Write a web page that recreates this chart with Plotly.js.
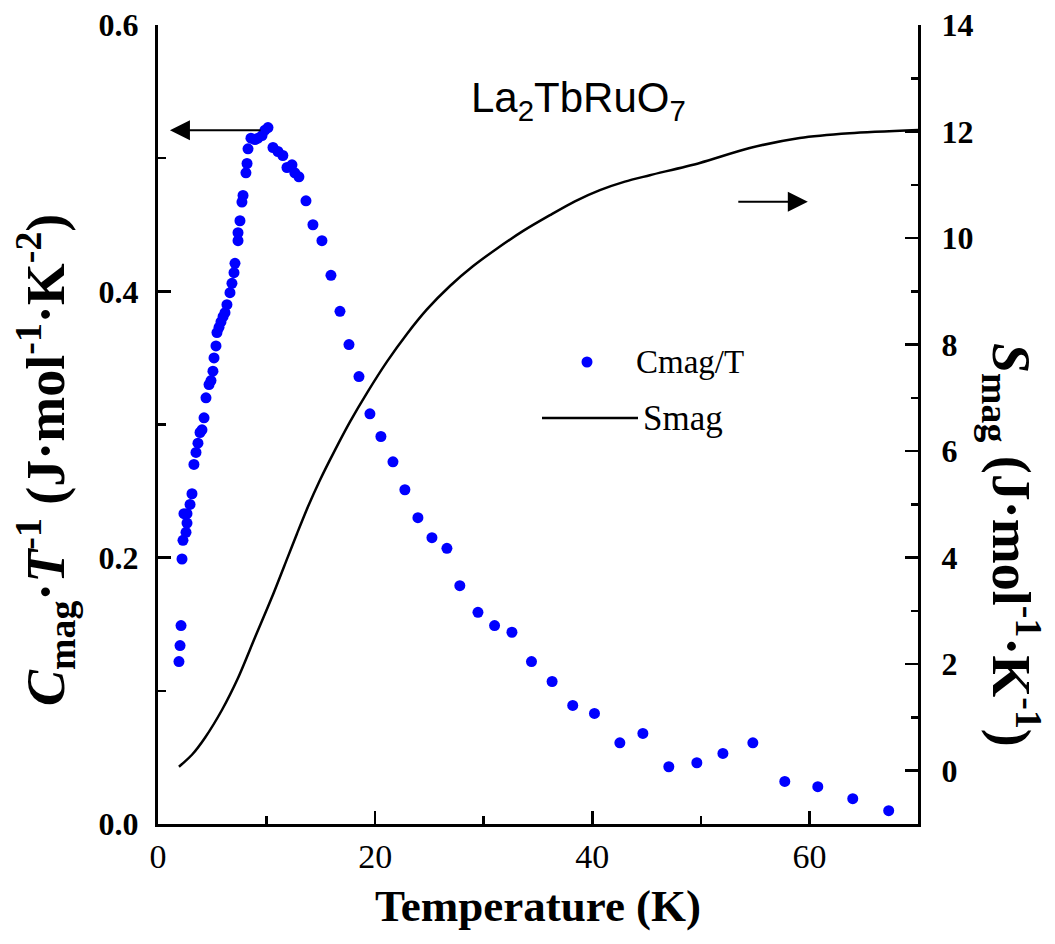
<!DOCTYPE html>
<html>
<head>
<meta charset="utf-8">
<script src="https://cdn.plot.ly/plotly-3.0.1.min.js"></script>
<style>html,body{margin:0;padding:0;background:#fff;}#chart{width:1055px;height:944px;}</style>
</head>
<body>
<div id="chart"></div>
<script>
// Cmag/T data (J mol^-1 K^-2) vs temperature (K)
const cT = [1.93,2.03,2.12,2.21,2.30,2.39,2.58,2.67,2.67,2.95,3.13,3.31,3.50,3.68,3.87,4.05,4.24,4.42,4.70,4.88,5.06,5.16,5.34,5.43,5.62,5.80,5.99,6.17,6.35,6.63,6.81,7.00,7.09,7.37,7.37,7.55,7.73,7.83,8.10,8.20,8.29,8.56,8.93,9.21,9.58,9.85,10.13,10.59,11.05,11.50,11.88,12.34,12.60,12.98,13.63,14.27,15.10,15.93,16.76,17.59,18.51,19.52,20.53,21.64,22.74,23.94,25.23,26.61,27.80,29.47,31.00,32.60,34.40,36.30,38.20,40.20,42.54,44.66,47.05,49.63,52.03,54.79,57.73,60.77,63.99,67.30];
const cmag = [0.122,0.134,0.149,0.199,0.213,0.233,0.219,0.226,0.233,0.240,0.248,0.270,0.279,0.286,0.294,0.296,0.305,0.320,0.330,0.333,0.340,0.350,0.359,0.369,0.373,0.377,0.381,0.384,0.390,0.399,0.406,0.414,0.421,0.438,0.444,0.453,0.467,0.472,0.489,0.496,0.507,0.515,0.514,0.515,0.517,0.521,0.523,0.508,0.505,0.502,0.493,0.495,0.489,0.486,0.468,0.450,0.438,0.412,0.385,0.360,0.336,0.308,0.291,0.272,0.251,0.230,0.215,0.207,0.179,0.159,0.149,0.144,0.122,0.107,0.089,0.083,0.061,0.068,0.043,0.046,0.053,0.061,0.032,0.028,0.019,0.010];
// Smag (J mol^-1 K^-1) vs temperature (K)
const sT = [1.93,3.13,4.33,5.89,7.37,8.93,10.5,11.97,12.8,13.8,14.9,16.3,17.68,19.24,21.09,22.93,24.77,26.89,29.0,31.2,33.6,36.1,38.4,40.7,43.0,45.3,49.9,54.5,59.1,63.7,70];
const smag = [0.075,0.30,0.62,1.14,1.74,2.50,3.26,4.02,4.45,4.95,5.45,6.02,6.55,7.09,7.68,8.20,8.66,9.10,9.47,9.80,10.13,10.43,10.69,10.90,11.06,11.18,11.41,11.69,11.88,11.97,12.03];
const xTicks = [0,20,40,60];
const yTicks = [0.0,0.2,0.4,0.6];
const y2Ticks = [0,2,4,6,8,10,12,14];

const serif = 'Liberation Serif, Times New Roman, serif';
const traces = [
  {x: cT, y: cmag, type: 'scatter', mode: 'markers', name: 'Cmag/T',
   marker: {color: '#0000FF', size: 11}, yaxis: 'y', showlegend: false},
  {x: sT, y: smag, type: 'scatter', mode: 'lines', name: 'Smag',
   line: {color: '#000000', width: 2.5, shape: 'spline', smoothing: 0.8}, yaxis: 'y2', showlegend: false}
];

const px = (p) => (p - 158) / 760;   // pixel -> paper x
const py = (p) => (824 - p) / 799;   // pixel -> paper y

const layout = {
  width: 1055, height: 944,
  margin: {l: 158, r: 137, t: 25, b: 120},
  paper_bgcolor: '#fff', plot_bgcolor: '#fff',
  showlegend: false,
  xaxis: {
    range: [0, 70], tickvals: xTicks, ticktext: xTicks.map(String),
    ticks: 'inside', ticklen: 13, tickwidth: 2.5, tickcolor: '#000',
    minor: {dtick: 10, ticks: 'inside', ticklen: 8, tickwidth: 2.5, tickcolor: '#000'},
    showline: true, linewidth: 3, linecolor: '#000', mirror: false,
    showgrid: false, zeroline: false,
    tickfont: {family: serif, size: 34, color: '#000'},
    title: {text: '<b>Temperature (K)</b>', font: {family: serif, size: 45, color: '#000'}, standoff: 16}
  },
  yaxis: {
    range: [0, 0.6], tickvals: yTicks, ticktext: ['0.0','0.2','0.4','0.6'],
    ticks: 'inside', ticklen: 13, tickwidth: 2.5, tickcolor: '#000',
    minor: {dtick: 0.1, ticks: 'inside', ticklen: 8, tickwidth: 2.5, tickcolor: '#000'},
    showline: true, linewidth: 3, linecolor: '#000',
    showgrid: false, zeroline: false, ticklabelstandoff: 10,
    tickfont: {family: serif, size: 32, color: '#000', weight: 'bold'}
  },
  yaxis2: {
    overlaying: 'y', side: 'right', anchor: 'x',
    range: [-1, 14], tickvals: y2Ticks, ticktext: y2Ticks.map(String),
    ticks: 'inside', ticklen: 13, tickwidth: 2.5, tickcolor: '#000',
    minor: {dtick: 1, ticks: 'inside', ticklen: 7, tickwidth: 2.5, tickcolor: '#000'},
    showline: true, linewidth: 3, linecolor: '#000',
    showgrid: false, zeroline: false, ticklabelstandoff: 14,
    tickfont: {family: serif, size: 32, color: '#000', weight: 'bold'}
  },
  shapes: [
    {type: 'circle', xref: 'paper', yref: 'paper',
     x0: px(587-5.5), x1: px(587+5.5), y0: py(362+5.5), y1: py(362-5.5),
     fillcolor: '#0000FF', line: {width: 0}},
    {type: 'line', xref: 'paper', yref: 'paper',
     x0: px(542), x1: px(638), y0: py(418), y1: py(418),
     line: {color: '#000', width: 2.5}}
  ],
  annotations: [
    {text: 'La<sub>2</sub>TbRuO<sub>7</sub>', xref: 'paper', yref: 'paper',
     x: px(578), y: py(100), xanchor: 'center', yanchor: 'middle', showarrow: false,
     font: {family: 'Liberation Sans, Arial, sans-serif', size: 42, color: '#000'}},
    {text: 'Cmag/T', xref: 'paper', yref: 'paper', x: px(634), y: py(362),
     xanchor: 'left', yanchor: 'middle', showarrow: false,
     font: {family: serif, size: 33, color: '#000'}},
    {text: 'Smag', xref: 'paper', yref: 'paper', x: px(641), y: py(418),
     xanchor: 'left', yanchor: 'middle', showarrow: false,
     font: {family: serif, size: 35, color: '#000'}},
    {text: '<b><i>C</i><sub>mag</sub>·<i>T</i><sup>-1</sup> (J·mol<sup>-1</sup>·K<sup>-2</sup>)</b>',
     xref: 'paper', yref: 'paper', x: px(45), y: py(460), xanchor: 'center', yanchor: 'middle',
     textangle: -90, showarrow: false, font: {family: serif, size: 54, color: '#000'}},
    {text: '<b><i>S</i><sub>mag</sub> (J·mol<sup>-1</sup>·K<sup>-1</sup>)</b>', xref: 'paper', yref: 'paper',
     x: px(1012), y: py(545), xanchor: 'center', yanchor: 'middle', textangle: 90, showarrow: false,
     font: {family: serif, size: 54, color: '#000'}},
    {x: 1.1, y: 0.521, xref: 'x', yref: 'y', ax: 92, ay: 0, text: '', showarrow: true,
     arrowhead: 2, arrowsize: 2, arrowwidth: 2, arrowcolor: '#000'},
    {x: 59.85, y: 10.68, xref: 'x', yref: 'y2', ax: -71, ay: 0, text: '', showarrow: true,
     arrowhead: 2, arrowsize: 2, arrowwidth: 2, arrowcolor: '#000'}
  ]
};

Plotly.newPlot('chart', traces, layout, {staticPlot: true, displayModeBar: false});
</script>
</body>
</html>
